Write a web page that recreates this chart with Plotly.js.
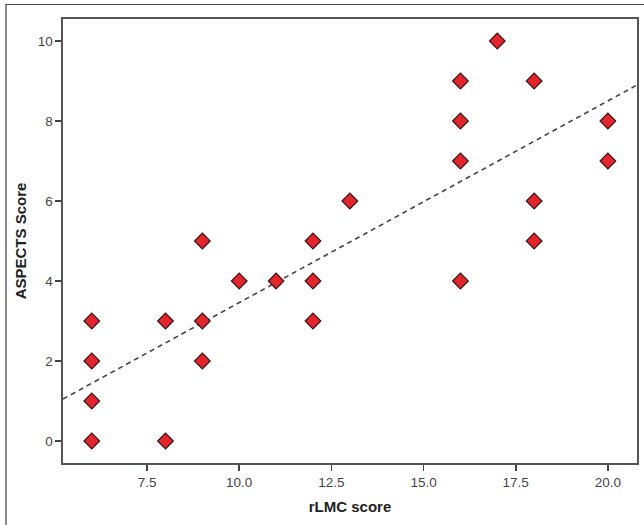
<!DOCTYPE html>
<html>
<head>
<meta charset="utf-8">
<script src="https://cdn.plot.ly/plotly-3.0.1.min.js"></script>
<style>
  html, body { margin: 0; padding: 0; background: #fff; }
  #frame { position: absolute; left: 5px; top: 4px; width: 700px; height: 600px;
           border-top: 1.5px solid #444; border-left: 2px solid #888; }
  #chart { position: absolute; left: 0; top: 0; width: 644px; height: 525px; }
</style>
</head>
<body>
<div id="frame"></div>
<div id="chart"></div>
<script>
// rLMC score (x) and ASPECTS score (y) for each patient
const rlmc    = [6, 6, 6, 6, 8, 8, 9, 9, 9, 10, 11, 12, 12, 12, 13, 16, 16, 16, 16, 17, 18, 18, 18, 20, 20];
const aspects = [0, 1, 2, 3, 0, 3, 2, 3, 5, 4, 4, 3, 4, 5, 6, 4, 7, 8, 9, 10, 5, 6, 9, 7, 8];

// fit line end points
const fitX = [5.22, 20.79];
const fitY = [1.05, 8.9];

const xTicks = [7.5, 10.0, 12.5, 15.0, 17.5, 20.0];
const xTickText = ["7.5", "10.0", "12.5", "15.0", "17.5", "20.0"];
const yTicks = [0, 2, 4, 6, 8, 10];

const traces = [
  {
    x: fitX, y: fitY, mode: 'lines', type: 'scatter',
    line: { color: '#444', width: 1.6, dash: '5px,4px' },
    hoverinfo: 'skip', showlegend: false
  },
  {
    x: rlmc, y: aspects, mode: 'markers', type: 'scatter',
    marker: { symbol: 'diamond', size: 12, color: '#e3262e',
              line: { color: '#3a1212', width: 1.2 } },
    showlegend: false
  }
];

const axisCommon = {
  showgrid: false, zeroline: false, showline: true, mirror: true,
  linecolor: '#555', linewidth: 1.6,
  ticks: 'outside', ticklen: 6, tickwidth: 1.6, tickcolor: '#444',
  tickfont: { family: 'Liberation Sans, Arial, sans-serif', size: 13.5, color: '#444' }
};

const layout = {
  width: 644, height: 525,
  margin: { l: 62.5, r: 7.3, t: 19, b: 62 },
  paper_bgcolor: 'rgba(0,0,0,0)', plot_bgcolor: '#fff',
  xaxis: Object.assign({}, axisCommon, {
    range: [5.22, 20.79], tickvals: xTicks, ticktext: xTickText,
    title: { text: 'rLMC score', standoff: 13,
             font: { family: 'Liberation Sans, Arial, sans-serif', size: 15, color: '#222', weight: 'bold' } }
  }),
  yaxis: Object.assign({}, axisCommon, {
    range: [-0.55, 10.55], tickvals: yTicks,
    title: { text: 'ASPECTS Score', standoff: 7,
             font: { family: 'Liberation Sans, Arial, sans-serif', size: 15, color: '#222', weight: 'bold' } }
  })
};

Plotly.newPlot('chart', traces, layout, { displayModeBar: false, staticPlot: true });
</script>
</body>
</html>
